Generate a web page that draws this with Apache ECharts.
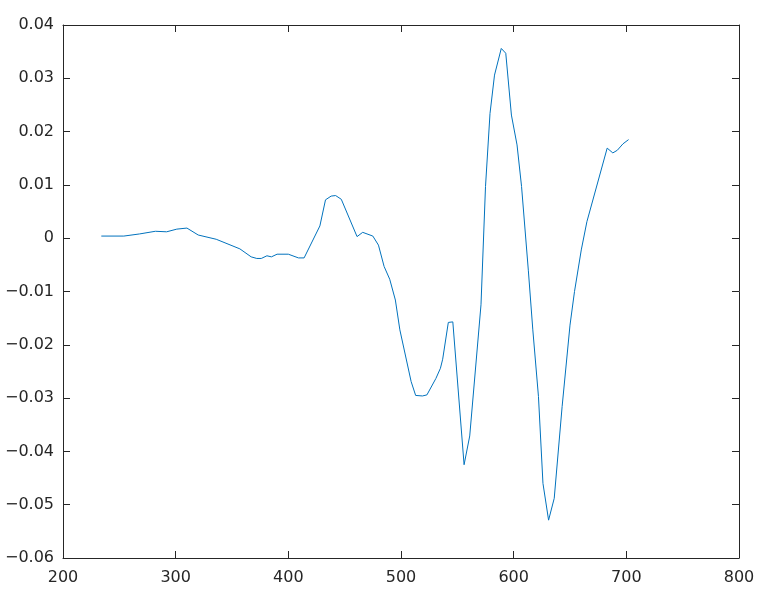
<!DOCTYPE html>
<html>
<head>
<meta charset="utf-8">
<script src="https://cdn.jsdelivr.net/npm/echarts@6/dist/echarts.min.js"></script>
<style>html,body{margin:0;padding:0;background:#fff}#c{width:762px;height:611px}</style>
</head>
<body>
<div id="c"></div>
<script>
const wavelength = [234,254,268,282,292,301,310,320,336,357,367,372,376,381,385,390,400,409,414,428,433,438,442,447,461,466,475,480,485,490,495,499,509,513,519,523,531,535,537,542,546,556,561,571,575,579,583,589,593,598,603,607,613,617,622,626,631,636,643,650,654,660,665,683,688,692,697,702];
const signal = [0.0004,0.0004,0.0008,0.0013,0.0012,0.0017,0.0019,0.0006,-0.0002,-0.002,-0.0035,-0.0038,-0.0038,-0.0033,-0.0035,-0.003,-0.003,-0.0037,-0.0037,0.0023,0.0072,0.0079,0.008,0.0073,0.0003,0.0011,0.0004,-0.0013,-0.0053,-0.0077,-0.0116,-0.0172,-0.0269,-0.0295,-0.0296,-0.0294,-0.0263,-0.0244,-0.0227,-0.0158,-0.0157,-0.0425,-0.0371,-0.0125,0.0097,0.0234,0.0306,0.0356,0.0347,0.0231,0.0175,0.0097,-0.006,-0.0172,-0.0297,-0.046,-0.0529,-0.0488,-0.0316,-0.0163,-0.01,-0.0022,0.0031,0.0169,0.016,0.0165,0.0177,0.0185];
const xTicks = [200,300,400,500,600,700,800];
const yTicks = [-0.06,-0.05,-0.04,-0.03,-0.02,-0.01,0,0.01,0.02,0.03,0.04];

const axisCol = '#262626';
const font = {fontFamily:"'DejaVu Sans'", fontSize:16, color:axisCol};
const chart = echarts.init(document.getElementById('c'));
const fmtY = v => {
  const r = Math.round(v*100)/100;
  if (r === 0) return '0';
  const s = Math.abs(r).toFixed(2);
  return (r < 0 ? '\u2212' : '') + s;
};
const frame = {show:true, onZero:false, lineStyle:{color:axisCol, width:1}};
const ticks = {show:true, inside:true, length:7, lineStyle:{color:axisCol}};
chart.setOption({
  animation:false,
  grid:{left:63, top:25, right:23, bottom:53, containLabel:false},
  xAxis:[
    {type:'value', min:xTicks[0], max:xTicks[xTicks.length-1], interval:100, position:'bottom',
     axisLine:frame, axisTick:ticks,
     axisLabel:Object.assign({margin:12}, font),
     splitLine:{show:false}},
    {type:'value', min:xTicks[0], max:xTicks[xTicks.length-1], interval:100, position:'top',
     axisLine:frame, axisTick:ticks,
     axisLabel:{show:false}, splitLine:{show:false}}
  ],
  yAxis:[
    {type:'value', min:yTicks[0], max:yTicks[yTicks.length-1], interval:0.01, position:'left',
     axisLine:frame, axisTick:ticks,
     axisLabel:Object.assign({margin:9, formatter:fmtY}, font),
     splitLine:{show:false}},
    {type:'value', min:yTicks[0], max:yTicks[yTicks.length-1], interval:0.01, position:'right',
     axisLine:frame, axisTick:ticks,
     axisLabel:{show:false}, splitLine:{show:false}}
  ],
  series:[{
    type:'line', xAxisIndex:0, yAxisIndex:0,
    data: wavelength.map((x,i)=>[x, signal[i]]),
    showSymbol:false, symbol:'none',
    lineStyle:{color:'#0072BD', width:1},
    itemStyle:{color:'#0072BD'}
  }]
});
</script>
</body>
</html>
